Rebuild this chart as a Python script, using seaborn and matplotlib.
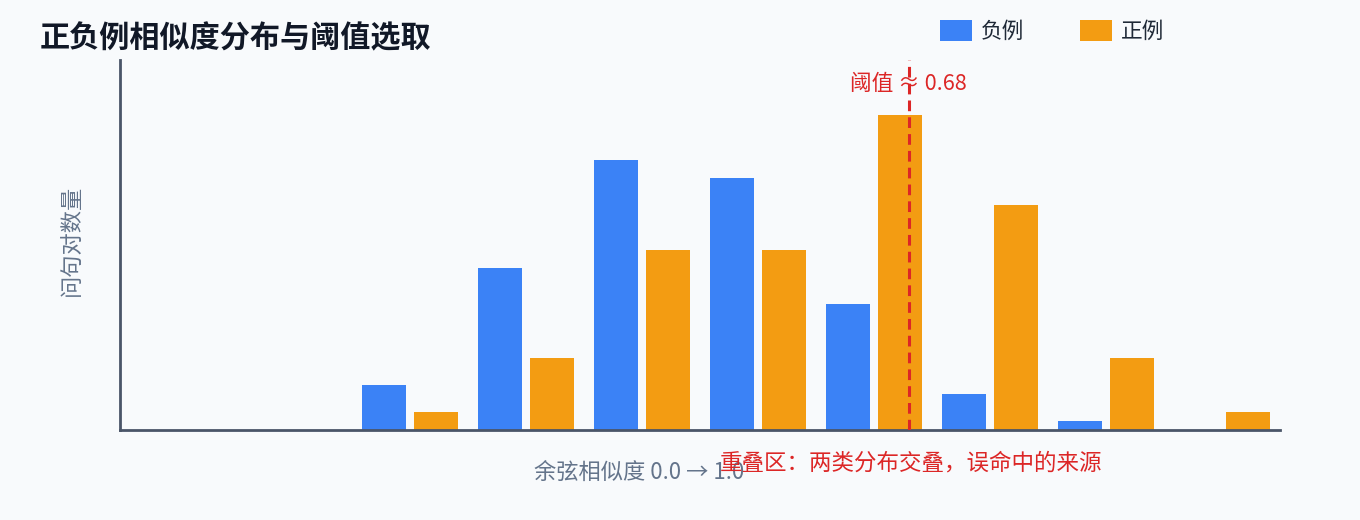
import pandas as pd
import matplotlib
matplotlib.use("Agg")
import matplotlib.pyplot as plt
from matplotlib.patches import Patch
import seaborn as sns

# data
bins = ["0.0-0.1", "0.1-0.2", "0.2-0.3", "0.3-0.4", "0.4-0.5",
        "0.5-0.6", "0.6-0.7", "0.7-0.8", "0.8-0.9", "0.9-1.0"]
neg_counts = [0, 0, 5, 18, 30, 28, 14, 4, 1, 0]
pos_counts = [0, 0, 2, 8, 20, 20, 35, 25, 8, 2]
series_names = ["负例", "正例"]
threshold = 0.68

bg = "#f8fafc"
blue = "#3b82f6"
orange = "#f39c12"
red = "#dc2626"

df = pd.DataFrame({
    "bin": bins * 2,
    "count": neg_counts + pos_counts,
    "kind": [series_names[0]] * len(bins) + [series_names[1]] * len(bins),
})

sns.set_theme(style="white")
plt.rcParams["font.family"] = ["Noto Sans CJK SC", "DejaVu Sans"]

fig = plt.figure(figsize=(13.6, 5.2), dpi=100, facecolor=bg)
ax = fig.add_axes([120 / 1360, 90 / 520, 1160 / 1360, 370 / 520])
ax.set_facecolor(bg)

sns.barplot(data=df, x="bin", y="count", hue="kind", order=bins,
            hue_order=series_names, palette=[blue, orange], saturation=1,
            width=0.8966, gap=0.154, dodge=True, legend=False,
            edgecolor="none", linewidth=0, ax=ax)

ax.set_xlim(-0.5, len(bins) - 0.5)
ax.set_ylim(0, 41.1)
ax.set_xticks([])
ax.set_yticks([])
ax.set_xlabel("")
ax.set_ylabel("")
for s in ["top", "right"]:
    ax.spines[s].set_visible(False)
for s in ["left", "bottom"]:
    ax.spines[s].set_color("#4a5568")
    ax.spines[s].set_linewidth(2)

# threshold line: convert 0..1 similarity to category position
thr_x = threshold * len(bins) - 0.5
ax.axvline(thr_x, color=red, lw=2.2, linestyle=(0, (3.5, 2)), zorder=5)
ax.text(thr_x, 38.4, f"阈值 ≈ {threshold}", color=red, fontsize=15.6,
        ha="center", va="center", zorder=4)

fig.text(40 / 1360, 1 - 38 / 520, "正负例相似度分布与阈值选取", fontsize=21.7,
         fontweight="bold", color="#111827", ha="left", va="center")
fig.text(639 / 1360, 1 - 472 / 520, "余弦相似度 0.0 → 1.0", fontsize=16,
         color="#64748b", ha="center", va="center")
fig.text(720 / 1360, 1 - 463 / 520, "重叠区：两类分布交叠，误命中的来源",
         fontsize=16.2, color=red, ha="left", va="center")
fig.text(72 / 1360, 1 - 240 / 520, "问句对数量", fontsize=16,
         color="#64748b", rotation=90, ha="center", va="center")

handles = [Patch(facecolor=blue, edgecolor="none"),
           Patch(facecolor=orange, edgecolor="none")]
fig.legend(handles, series_names, loc="upper left",
           bbox_to_anchor=(940 / 1360, 1 - 20 / 520), ncol=2, frameon=False,
           fontsize=15.6, handlelength=1.48, handleheight=1.1,
           handletextpad=0.4, columnspacing=2.6, borderpad=0,
           borderaxespad=0, labelcolor="#1f2937")

fig.savefig("out.png", dpi=100, facecolor=bg)
